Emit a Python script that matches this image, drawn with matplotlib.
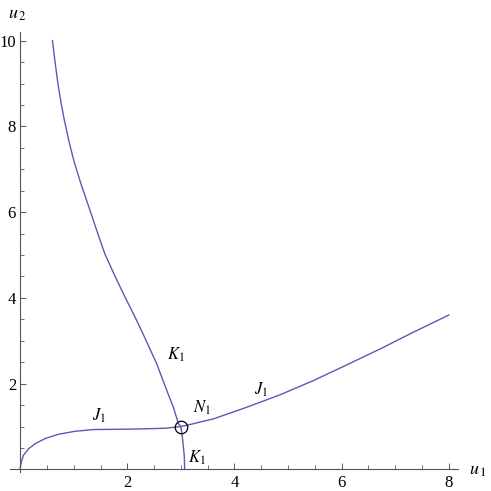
import matplotlib
matplotlib.use('Agg')
import matplotlib.pyplot as plt
from matplotlib.ticker import MultipleLocator

plt.rcParams['font.family'] = 'Liberation Serif'
plt.rcParams['mathtext.fontset'] = 'stix'

# curve K1
k1_x = [0.603, 0.652, 0.71, 0.762, 0.82, 0.915, 1.01, 1.14, 1.285, 1.43, 1.58,
        1.75, 1.925, 2.114, 2.29, 2.55, 2.737, 2.86, 2.953, 3.0, 3.035, 3.065, 3.07]
k1_y = [10.0, 9.49, 8.95, 8.56, 8.17, 7.63, 7.16, 6.64, 6.11, 5.57, 5.03,
        4.56, 4.10, 3.63, 3.17, 2.46, 1.84, 1.45, 1.07, 0.99, 0.68, 0.29, 0.0]

# curve J1
j1_x = [0.0, 0.0, 0.02, 0.06, 0.155, 0.28, 0.466, 0.715, 1.026, 1.37, 2.08, 2.71, 3.0,
        3.11, 3.61, 4.23, 4.85, 5.47, 6.10, 6.72, 7.34, 8.0]
j1_y = [0.0, 0.02, 0.17, 0.33, 0.48, 0.60, 0.72, 0.82, 0.89, 0.93, 0.94, 0.96, 1.0,
        1.03, 1.18, 1.45, 1.74, 2.07, 2.44, 2.81, 3.20, 3.60]

node = (3.0, 1.0)

labels = ['$J_1$', '$J_1$', '$K_1$', '$K_1$', '$N_1$']
label_x = [1.47, 4.5, 2.9, 3.3, 3.39]
label_y = [1.26, 1.86, 2.67, 0.27, 1.44]

x_ticks = [2, 4, 6, 8]
y_ticks = [2, 4, 6, 8, 10]

line_color = '#5a5ab4'

fig = plt.figure(figsize=(4.91, 4.91), dpi=100)
ax = fig.add_axes([0.0204, 0.0387, 0.912, 0.896])

ax.plot(k1_x, k1_y, color=line_color, lw=1.0)
ax.plot(j1_x, j1_y, color=line_color, lw=1.0)
ax.plot([node[0]], [node[1]], marker='o', ms=9, mfc='none', mec='black', mew=0.9)

for t, x, y in zip(labels, label_x, label_y):
    ax.text(x, y, t, ha='center', va='center', fontsize=12)

ax.set_xlim(-0.19, 8.17)
ax.set_ylim(-0.06, 10.2)

ax.spines['left'].set_position(('data', 0))
ax.spines['bottom'].set_position(('data', 0))
ax.spines['top'].set_visible(False)
ax.spines['right'].set_visible(False)
for s in ['left', 'bottom']:
    ax.spines[s].set_color('#555555')
    ax.spines[s].set_linewidth(0.8)
ax.spines['left'].set_bounds(-0.06, 10.2)
ax.spines['bottom'].set_bounds(-0.19, 8.17)

ax.set_xticks(x_ticks)
ax.set_yticks(y_ticks)
ax.xaxis.set_minor_locator(MultipleLocator(0.5))
ax.yaxis.set_minor_locator(MultipleLocator(0.5))
ax.tick_params(which='major', direction='in', length=4.5, width=0.7, color='#555555',
               labelsize=12, pad=3)
ax.tick_params(which='minor', direction='in', length=2.8, width=0.6, color='#555555')
ax.tick_params(axis='x', which='major', pad=4)

ax.text(-0.05, 10.62, '$u_{\\,2}$', ha='center', va='center', fontsize=13)
ax.text(8.55, -0.02, '$u_{\\,1}$', ha='center', va='center', fontsize=13)

fig.savefig('out.png', dpi=100)
